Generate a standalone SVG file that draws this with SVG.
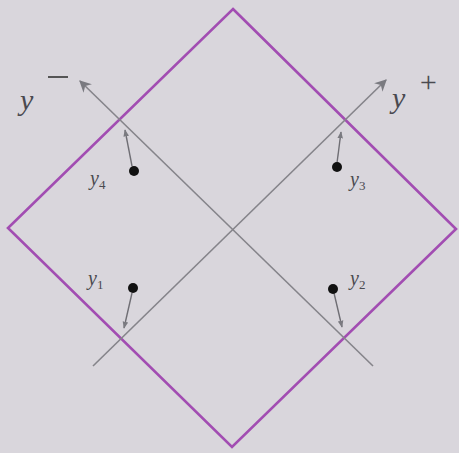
<svg xmlns="http://www.w3.org/2000/svg" width="459" height="453" viewBox="0 0 459 453">
<defs>
<marker id="ah" viewBox="0 0 10 10" refX="9" refY="5" markerWidth="7" markerHeight="7" orient="auto" markerUnits="userSpaceOnUse"><path d="M0,1 L10,5 L0,9 Z" fill="#7a7a80"/></marker>
<marker id="big" viewBox="0 0 10 10" refX="9" refY="5" markerWidth="16" markerHeight="12" orient="auto" markerUnits="userSpaceOnUse"><path d="M0,0 L10,5 L0,10 L3,5 Z" fill="#7a7a80"/></marker>
</defs>
<style>
.ax{stroke:#85848a;stroke-width:1.6;fill:none}
.sm{stroke:#6f6e74;stroke-width:1.4;fill:none}
.lab{font-family:"Liberation Serif",serif;font-style:italic;fill:#4a4a50}
.dot{fill:#111}
</style>
<rect width="459" height="453" fill="#d9d6dc"/>
<g id="diamond"><path d="M233,9 L456,229 L232,447 L8,228 Z" fill="none" stroke="#a24db2" stroke-width="2.6"/></g>
<g id="connectors">
<line class="ax" x1="93" y1="366" x2="386" y2="80" marker-end="url(#big)"/>
<line class="ax" x1="373" y1="366" x2="80" y2="81" marker-end="url(#big)"/>
<line class="sm" x1="132" y1="166" x2="125" y2="130" marker-end="url(#ah)"/>
<line class="sm" x1="337" y1="163" x2="341" y2="132" marker-end="url(#ah)"/>
<line class="sm" x1="132" y1="293" x2="124" y2="328" marker-end="url(#ah)"/>
<line class="sm" x1="334" y1="293" x2="342" y2="327" marker-end="url(#ah)"/>
</g>
<g id="ym"><text class="lab" x="20" y="110" font-size="30">y</text><line x1="48" y1="77" x2="68" y2="77" stroke="#555" stroke-width="2"/></g>
<g id="yp"><text class="lab" x="392" y="108" font-size="30">y</text><text class="lab" x="418" y="92" font-size="30" font-style="normal">+</text></g>
<g id="y4"><circle class="dot" cx="134" cy="171" r="5"/><text class="lab" x="90" y="185" font-size="20">y<tspan font-size="13" font-style="normal" dy="4">4</tspan></text></g>
<g id="y3"><circle class="dot" cx="337" cy="167" r="5"/><text class="lab" x="350" y="186" font-size="20">y<tspan font-size="13" font-style="normal" dy="4">3</tspan></text></g>
<g id="y1"><circle class="dot" cx="133" cy="288" r="5"/><text class="lab" x="88" y="285" font-size="20">y<tspan font-size="13" font-style="normal" dy="4">1</tspan></text></g>
<g id="y2"><circle class="dot" cx="333" cy="289" r="5"/><text class="lab" x="350" y="285" font-size="20">y<tspan font-size="13" font-style="normal" dy="4">2</tspan></text></g>
</svg>
